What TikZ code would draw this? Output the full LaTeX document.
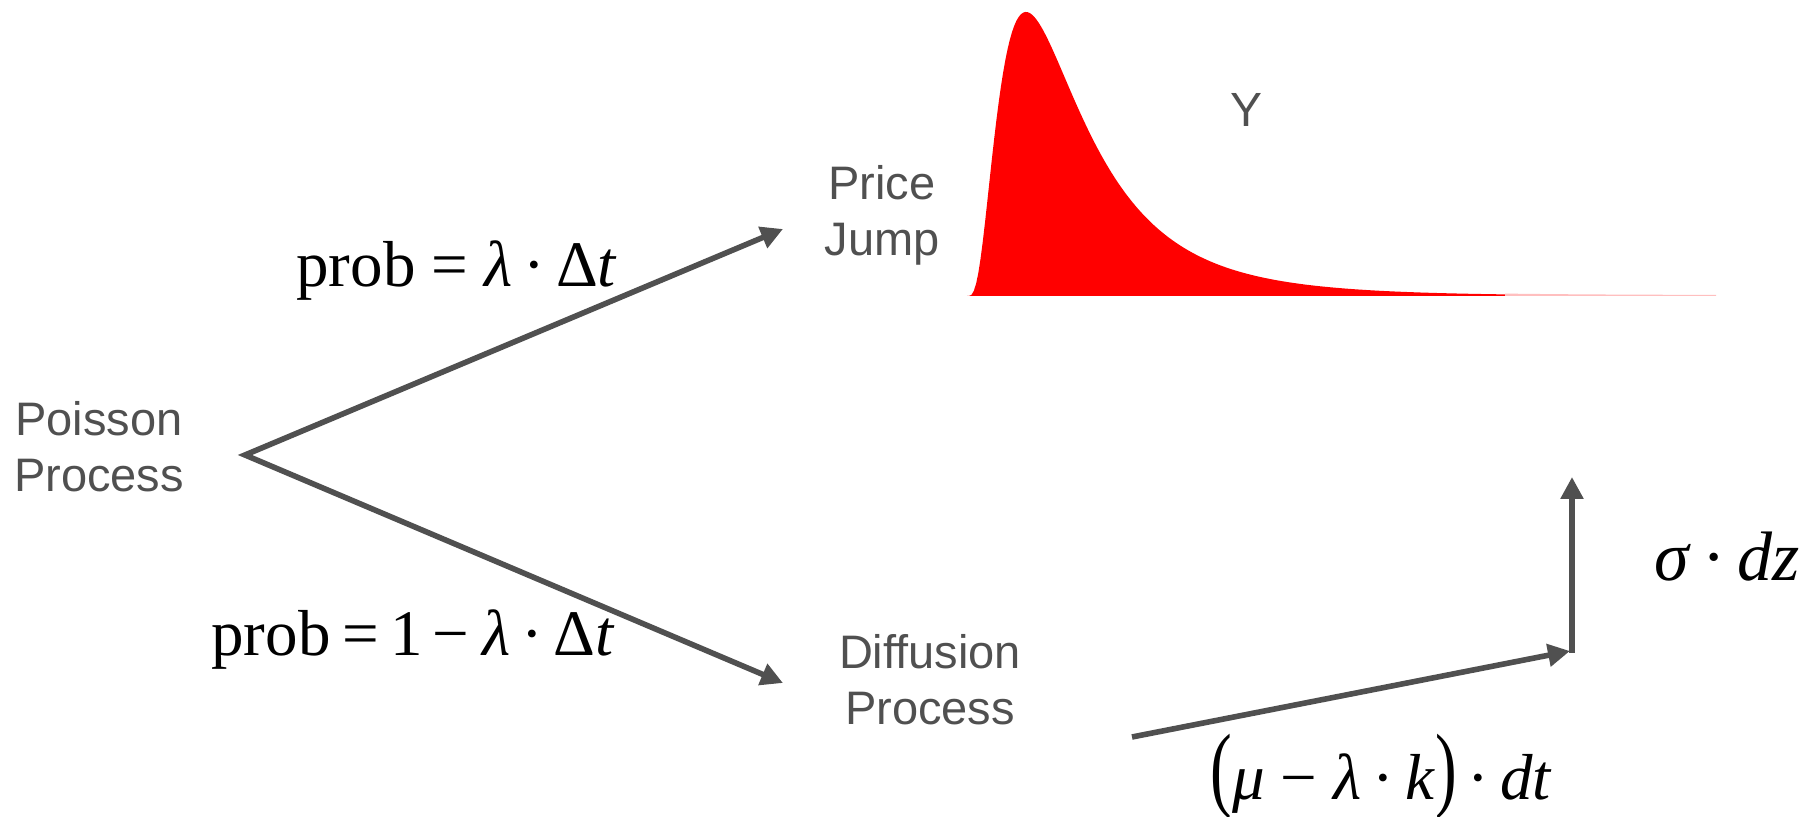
\documentclass[tikz,border=0pt]{standalone}
\usepackage{fontspec}
\setmainfont{Liberation Sans}
\newfontfamily\tms{Liberation Serif}
\usetikzlibrary{arrows.meta}
\definecolor{dg}{HTML}{505050}
\begin{document}
\begin{tikzpicture}[x=0.5pt,y=-0.5pt,
  lbl/.style={text=dg, font=\fontsize{23.5}{28}\selectfont, align=center, inner sep=0},
  eq/.style={font=\tms\fontsize{32.5}{38}\selectfont, inner sep=0, anchor=base west},
  tip/.style={Triangle[length=11pt,width=11pt]},
  arr/.style={draw=dg, line width=2.8pt, line join=miter, -{Triangle[length=11pt,width=11pt]}},
  arr2/.style={draw=dg, line width=2.8pt, line join=miter, {Triangle[length=11pt,width=11pt]}-{Triangle[length=11pt,width=11pt]}}]
\useasboundingbox (0,0) rectangle (1812,817);
% jump-size distribution
\fill[red] (967,296) -- plot[domain=2:540, samples=240] ({965+\x}, {296-284*exp(-(ln(\x/61))*(ln(\x/61))/0.92)}) -- (1505,296) -- cycle;
\fill[red!25] (1505,296) -- plot[domain=540:751, samples=50] ({965+\x}, {296-284*exp(-(ln(\x/61))*(ln(\x/61))/0.92)-0.8}) -- (1716,296) -- cycle;
% labels
\node[lbl] (poisson) at (99,447) {Poisson\\Process};
\node[lbl] (jump) at (882,215) {Price\\Jump};
\node[lbl] (diff) at (930,680) {Diffusion\\Process};
\node[text=dg, font=\fontsize{24}{28}\selectfont, inner sep=0, anchor=base] (y) at (1246,127) {Y};
% formulas
\node[eq] (p1) at (296,287) {prob = \textit{λ}\,·\,Δ\textit{t}};
\node[eq] (p2) at (211,656) {prob\hspace{0.18em}=\hspace{0.18em}1\hspace{0.15em}−\hspace{0.2em}\textit{λ}\,·\,Δ\textit{t}};
\node[eq, font=\tms\fontsize{35}{40}\selectfont] (sdz) at (1654,581) {\textit{σ}\,·\,\textit{dz}};
\node[eq] (drift) at (1210,800) {\scalebox{1}[1.45]{(}\textit{μ} − \textit{λ}\,·\,\textit{k}\scalebox{1}[1.45]{)}\,·\,\textit{dt}};
% connectors
\coordinate (v) at (245,455);
\coordinate (pj) at (783,229);
\coordinate (df) at (783,683);
\draw[arr2] (pj) -- (v) -- (df);
\coordinate (d0) at (1132,737);
\coordinate (d1) at (1570,651);
\coordinate (s0) at (1572,653);
\coordinate (s1) at (1572,477);
\draw[arr] (d0) -- (d1);
\draw[arr] (s0) -- (s1);
\end{tikzpicture}
\end{document}
